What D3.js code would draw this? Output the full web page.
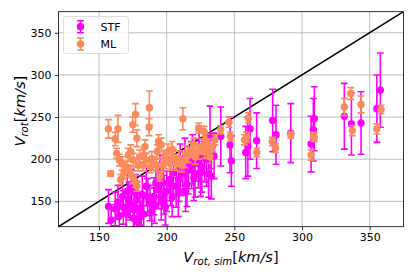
<!DOCTYPE html>
<html lang="en">
<head>
  <meta charset="UTF-8" />
  <title>Vrot comparison</title>
  <script src="https://cdnjs.cloudflare.com/ajax/libs/d3/7.8.5/d3.min.js"></script>
  <style>
    body { margin: 0; background: #fff; font-family: "DejaVu Sans", sans-serif; }
    svg { display: block; }
  </style>
</head>
<body>
  <svg id="chart" width="415" height="277"></svg>

  <script>
    // STF estimates
    const stfSim = [157,159,162,164,165,167.5,170,171,173,174,175.5,176,178,179,180,182,183,185,187.7,189,190.6,192,194,195,196,197.5,199,200,202.5,204,205,207,208.6,210,212,213.5,215,216,218.5,220,221,223.4,224,226,228,229.5,231,232,233,235,240,246.8,247.8,258.4,260,261.6,266.5,278.3,280.8,291.7,306.7,308.4,309.1,331.3,336.5,343.6,355.3,357.9,168,172,177,181,186,191,198,203,209,214,219,225];
    const stfVel = [144,128,141,149,133,156,136,162,148,166,130,140,152,125,142,158,135,168,148,138,156,172,164,180,150,172,143,162,176,155,184,168,160,191,183,197,170,187,193,178,183,195,204,191,203,199,183,226,180,204,227,217,198,208,215,236,222,246,229,231,218,235,248,251,242,243,260,282,143,152,160,132,155,145,158,170,176,162,200,184];
    const stfErr = [20,18,20,20,18,21,19,22,20,22,18,20,21,18,20,22,20,23,21,20,22,24,23,25,22,24,21,24,25,23,26,25,28,27,26,28,26,28,28,27,28,29,30,30,30,31,28,37,27,27,35,33,30,31,35,36,33,37,35,35,33,37,38,39,37,37,40,44,20,21,22,18,22,21,23,25,26,24,29,28];

    // ML estimates
    const mlSim = [157,162,164,175,177,178,184,187,187.2,194,196,212,223.6,227.6,158.6,163,165,166,168.5,170.4,171.7,173.4,175,176.6,178,175.4,179,180,182.8,185,188,190,192.6,193,195,196.8,198.8,201,202.5,205,207,209,211,213.5,216,218.5,221,223.4,226,228,231,232,234,235.7,240,246,247,257.5,259,260.4,266.6,278,280.5,291.7,306.7,308.6,309.1,331.3,336,337.2,343.6,355.3,358.4,167,172,183,189,199,204,214,220,229];
    const mlVel = [236,224,236,241,253,225,215,238,261,221,217,248,237,233,183,207,199,176,184,191,205,209,179,174,168,199,193,203,193,199,191,195,193,209,180,193,203,209,195,203,195,201,193,199,205,211,203,209,215,209,215,203,215,223,235,244,227,223,226,249,208,221,213,229,205,227,226,262,278,234,265,236,259,195,186,205,201,198,212,207,217,222];
    const mlErr = [11,8,16,9,13,10,8,10,20,8,8,13,6,6,3,6,7,6,7,7,8,8,7,7,6,8,7,8,7,8,7,8,7,8,6,8,8,9,8,9,8,9,8,9,9,9,9,9,9,8,9,8,6,6,5,6,5,6,6,6,5,5,5,4,6,5,5,10,7,6,10,6,5,8,7,8,8,9,9,9,8,8];

    const ticks = [150, 200, 250, 300, 350];
    const domain = [120, 375];

    const series = [
      { name: "STF", color: "#ff00ff", sim: stfSim, vel: stfVel, err: stfErr },
      { name: "ML", color: "#f98b5e", sim: mlSim, vel: mlVel, err: mlErr }
    ];

    const margin = { top: 11.7, right: 11.5, bottom: 50.3, left: 58.4 };
    const svg = d3.select("#chart");
    const width = 415 - margin.left - margin.right;
    const height = 277 - margin.top - margin.bottom;

    const x = d3.scaleLinear().domain(domain).range([0, width]);
    const y = d3.scaleLinear().domain(domain).range([height, 0]);

    const g = svg.append("g").attr("transform", `translate(${margin.left},${margin.top})`);

    g.append("clipPath").attr("id", "clip")
      .append("rect").attr("width", width).attr("height", height);

    // grid
    g.append("g").selectAll("line").data(ticks).enter().append("line")
      .attr("x1", d => x(d)).attr("x2", d => x(d))
      .attr("y1", 0).attr("y2", height)
      .attr("stroke", "#b0b0b0").attr("stroke-width", 0.8);
    g.append("g").selectAll("line").data(ticks).enter().append("line")
      .attr("y1", d => y(d)).attr("y2", d => y(d))
      .attr("x1", 0).attr("x2", width)
      .attr("stroke", "#b0b0b0").attr("stroke-width", 0.8);

    const plot = g.append("g").attr("clip-path", "url(#clip)");

    // one-to-one line
    plot.append("line")
      .attr("x1", x(domain[0])).attr("y1", y(domain[0]))
      .attr("x2", x(domain[1])).attr("y2", y(domain[1]))
      .attr("stroke", "#000").attr("stroke-width", 1.5);

    const cap = 3.4;
    series.forEach(s => {
      const pts = s.sim.map((v, i) => ({ x: v, y: s.vel[i], e: s.err[i] }));
      const grp = plot.append("g");
      const eb = grp.selectAll("g.eb").data(pts).enter().append("g")
        .attr("stroke", s.color).attr("stroke-width", 1.6);
      eb.append("line")
        .attr("x1", d => x(d.x)).attr("x2", d => x(d.x))
        .attr("y1", d => y(d.y - d.e)).attr("y2", d => y(d.y + d.e));
      eb.append("line")
        .attr("x1", d => x(d.x) - cap).attr("x2", d => x(d.x) + cap)
        .attr("y1", d => y(d.y - d.e)).attr("y2", d => y(d.y - d.e));
      eb.append("line")
        .attr("x1", d => x(d.x) - cap).attr("x2", d => x(d.x) + cap)
        .attr("y1", d => y(d.y + d.e)).attr("y2", d => y(d.y + d.e));
      grp.selectAll("circle").data(pts).enter().append("circle")
        .attr("cx", d => x(d.x)).attr("cy", d => y(d.y))
        .attr("r", 3.7).attr("fill", s.color);
    });

    // axes
    const xAxis = g.append("g").attr("transform", `translate(0,${height})`)
      .call(d3.axisBottom(x).tickValues(ticks).tickSize(3.5).tickPadding(3.5));
    const yAxis = g.append("g")
      .call(d3.axisLeft(y).tickValues(ticks).tickSize(3.5).tickPadding(3.5));
    [xAxis, yAxis].forEach(a => {
      a.select(".domain").remove();
      a.selectAll("text").attr("font-size", 11).attr("font-family", "DejaVu Sans").attr("fill", "#000");
      a.selectAll("line").attr("stroke", "#000").attr("stroke-width", 0.8);
    });

    g.append("rect").attr("width", width).attr("height", height)
      .attr("fill", "none").attr("stroke", "#000").attr("stroke-width", 0.8);

    // axis labels
    const xl = svg.append("text")
      .attr("x", margin.left + width / 2).attr("y", 262)
      .attr("text-anchor", "middle").attr("font-size", 14.5).attr("font-family", "DejaVu Sans");
    xl.append("tspan").attr("font-style", "italic").text("V");
    xl.append("tspan").attr("font-style", "italic").attr("font-size", 10.2).attr("dy", 3.3).text("rot, sim");
    xl.append("tspan").attr("dy", -3.3).text("[");
    xl.append("tspan").attr("font-style", "italic").text("km/s");
    xl.append("tspan").text("]");

    const yl = svg.append("text")
      .attr("transform", `translate(25,${margin.top + height / 2 - 8}) rotate(-90)`)
      .attr("text-anchor", "middle").attr("font-size", 14.5).attr("font-family", "DejaVu Sans");
    yl.append("tspan").attr("font-style", "italic").text("V");
    yl.append("tspan").attr("font-style", "italic").attr("font-size", 10.2).attr("dy", 3.3).text("rot");
    yl.append("tspan").attr("dy", -3.3).text("[");
    yl.append("tspan").attr("font-style", "italic").text("km/s");
    yl.append("tspan").text("]");

    // legend
    const lg = svg.append("g").attr("transform", "translate(63.5,16.5)");
    lg.append("rect").attr("width", 65).attr("height", 37).attr("rx", 2.5)
      .attr("fill", "#fff").attr("fill-opacity", 0.8)
      .attr("stroke", "#d6d6d6").attr("stroke-width", 0.8);
    series.forEach((s, i) => {
      const cy = 10.2 + i * 17.3;
      const it = lg.append("g").attr("stroke", s.color).attr("stroke-width", 1.6);
      it.append("line").attr("x1", 17).attr("x2", 17).attr("y1", cy - 6).attr("y2", cy + 6);
      it.append("line").attr("x1", 13.6).attr("x2", 20.4).attr("y1", cy - 6).attr("y2", cy - 6);
      it.append("line").attr("x1", 13.6).attr("x2", 20.4).attr("y1", cy + 6).attr("y2", cy + 6);
      lg.append("circle").attr("cx", 17).attr("cy", cy).attr("r", 3.7).attr("fill", s.color);
      lg.append("text").attr("x", 37).attr("y", cy + 4)
        .attr("font-size", 11).attr("font-family", "DejaVu Sans").text(s.name);
    });
  </script>
</body>
</html>
